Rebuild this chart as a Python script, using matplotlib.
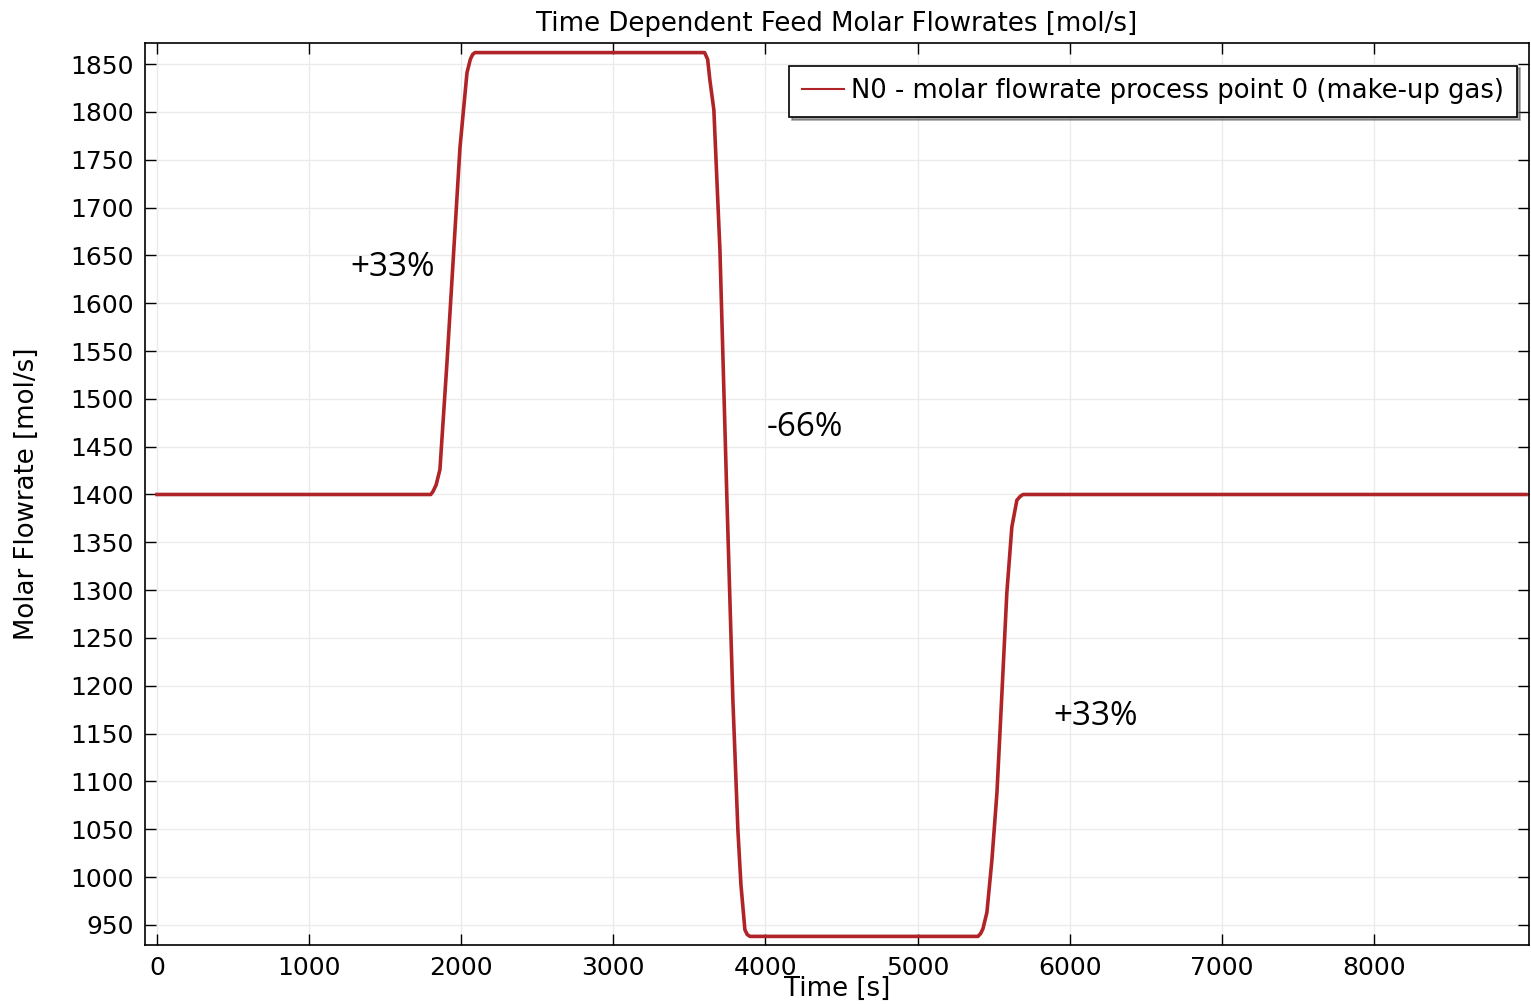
import numpy as np
import matplotlib.pyplot as plt

# Datos
time = [0, 1800, 1814, 1835, 1860, 1906, 1946, 1992, 2038, 2060, 2075, 2090,
        3600, 3620, 3635, 3661, 3701, 3747, 3786, 3819, 3839, 3865, 3880, 3898,
        5397, 5415, 5430, 5456, 5489, 5522, 5555, 5587, 5620, 5653, 5675, 5693, 9000]
flow = [1400, 1400, 1403, 1410, 1426, 1537, 1642, 1763, 1841, 1855, 1860, 1862,
        1862, 1855, 1833, 1802, 1655, 1394, 1185, 1049, 992, 945, 940, 938,
        938, 941, 946, 963, 1018, 1088, 1193, 1297, 1366, 1394, 1398, 1400, 1400]

labels = ['+33%', '-66%', '+33%']
label_t = [1551, 4260, 6172]
label_y = [1637, 1470, 1168]

plt.rcParams['font.family'] = 'DejaVu Sans'
fig = plt.figure(figsize=(15.31, 10.05), dpi=100)
ax = fig.add_axes([0.0947, 0.0597, 0.9040, 0.8975])

ax.plot(time, flow, color='#b02428', lw=2.6, solid_joinstyle='round',
        label='N0 - molar flowrate process point 0 (make-up gas)')

for txt, t, y in zip(labels, label_t, label_y):
    ax.text(t, y, txt, fontsize=24, family='Open Sans', ha='center', va='center')

ax.set_xlim(-79, 9020)
ax.set_ylim(929, 1872)
ax.set_xticks(np.arange(0, 9000, 1000))
ax.set_yticks(np.arange(950, 1851, 50))
ax.tick_params(direction='in', length=8, width=1, labelsize=18,
               top=True, right=True, pad=8)
ax.grid(True, color='#ebebeb', lw=1)
for s in ax.spines.values():
    s.set_linewidth(1.2)

ax.set_title('Time Dependent Feed Molar Flowrates [mol/s]', fontsize=18.7, pad=9)
ax.set_xlabel('Time [s]', fontsize=18.7, labelpad=-3)
ax.set_ylabel('Molar Flowrate [mol/s]', fontsize=18.7, labelpad=22)

leg = ax.legend(loc='upper right', bbox_to_anchor=(0.9915, 0.975), borderaxespad=0,
                fontsize=18.6, fancybox=False, shadow=True, framealpha=1,
                edgecolor='black', handlelength=1.6, handletextpad=0.3,
                borderpad=0.5)
leg.get_frame().set_linewidth(1.2)
for h in leg.get_lines():
    h.set_linewidth(1.5)

fig.savefig('out.png', dpi=100)
